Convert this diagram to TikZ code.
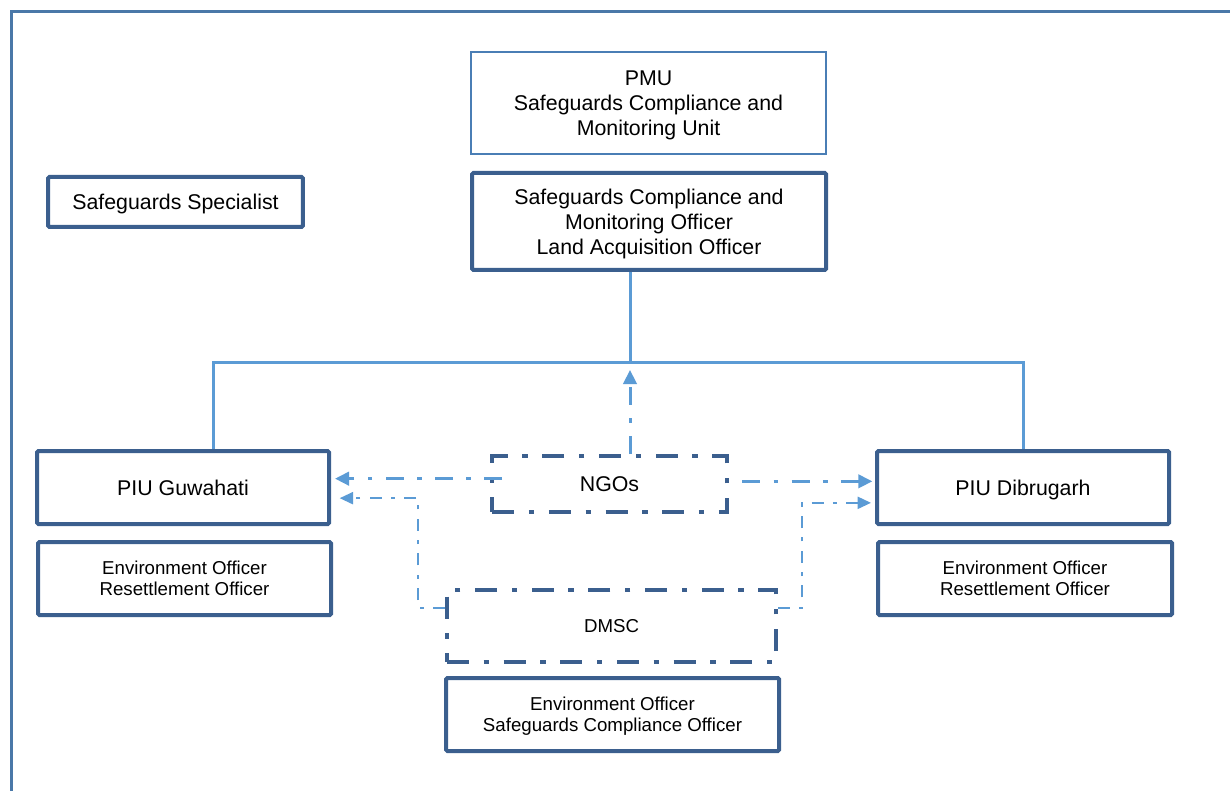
\documentclass[tikz,border=0pt]{standalone}
\usepackage{fontspec}
\setmainfont{Liberation Sans}
\usetikzlibrary{arrows.meta,calc}
\definecolor{boxblue}{HTML}{3B5F8E}
\definecolor{pmublue}{HTML}{4A7EB5}
\definecolor{linkblue}{HTML}{5B9BD5}
\definecolor{frameblue}{HTML}{4A78A8}
\begin{document}
\begin{tikzpicture}[x=0.75pt,y=-0.75pt,>={Triangle[length=10.5pt,width=10pt]},
  box/.style={draw=boxblue,line width=3pt,rounded corners=1pt,align=center,inner sep=0pt,
    text depth=0pt,font=\fontsize{16}{18.75}\selectfont},
  small/.style={font=\fontsize{14}{15.75}\selectfont},
  dashbox/.style={box,rounded corners=0pt,dash pattern=on 16.5pt off 11pt on 4pt off 11pt},
  link/.style={draw=linkblue,line width=2.25pt},
  ngolink/.style={link,dash pattern=on 13.5pt off 10pt on 3.5pt off 10pt},
  dmsclink/.style={draw=linkblue,line width=1.5pt,dash pattern=on 9pt off 7pt on 3pt off 7pt,
    >={Triangle[length=10pt,width=9pt]}}]
\useasboundingbox (0,0) rectangle (1230,791);
\draw [frameblue,line width=2.25pt] (11,800) -- (11,12) -- (1240,12);

% PMU
\node [box,draw=pmublue,line width=1.5pt,rounded corners=0pt,minimum width=266pt,minimum height=76.5pt]
  (pmu) at (648.5,103) {PMU\\Safeguards Compliance and\\Monitoring Unit};
\node [box,minimum width=265.5pt,minimum height=72.75pt]
  (off) at (649,221.5) {Safeguards Compliance and\\Monitoring Officer\\Land Acquisition Officer};
\node [box,minimum width=191pt,minimum height=37.5pt] (spec) at (175.5,202) {Safeguards Specialist};

% PIUs
\node [box,minimum width=219pt,minimum height=54.75pt] (guw) at (183,487.5) {PIU Guwahati};
\node [box,small,minimum width=219.75pt,minimum height=54.75pt]
  (guwenv) at (184.5,578.5) {Environment Officer\\Resettlement Officer};
\node [box,minimum width=219pt,minimum height=54.75pt] (dib) at (1023,487.5) {PIU Dibrugarh};
\node [box,small,minimum width=220.5pt,minimum height=54.75pt]
  (dibenv) at (1025,578.5) {Environment Officer\\Resettlement Officer};

% NGOs and DMSC
\node [dashbox,minimum width=176pt,minimum height=42pt] (ngo) at (609.5,484) {NGOs};
\node [dashbox,small,minimum width=246.75pt,minimum height=54pt] (dmsc) at (611.5,626) {DMSC};
\node [box,small,minimum width=249.75pt,minimum height=54.75pt]
  (dmscenv) at (612.5,714.5) {Environment Officer\\Safeguards Compliance Officer};

% reporting lines
\coordinate (hub) at (630,362);
\draw [link] (hub |- off.south) -- (hub);
\draw [link] ([xshift=23pt]guw.north) |- (hub) -| (dib.north);

\draw [ngolink,->] (ngo.north -| hub) -- ([yshift=-6pt]hub);
\coordinate (ngol) at ([xshift=9pt,yshift=4pt]ngo.west);
\draw [ngolink,->] (ngol) -- ([xshift=3pt]ngol -| guw.east);
\coordinate (ngor) at ([xshift=10pt,yshift=2pt]ngo.east);
\draw [ngolink,->] (ngor) -- ([xshift=-2pt]ngor -| dib.west);

\draw [dmsclink,->] ([yshift=13.5pt]dmsc.west) -- ++(-20pt,0) |- ([xshift=6.5pt,yshift=-8pt]guw.east);
\draw [dmsclink,->] ([yshift=13.5pt]dmsc.east) -- ++(18pt,0) |- ([xshift=-3pt,yshift=-11.5pt]dib.west);

\end{tikzpicture}
\end{document}
